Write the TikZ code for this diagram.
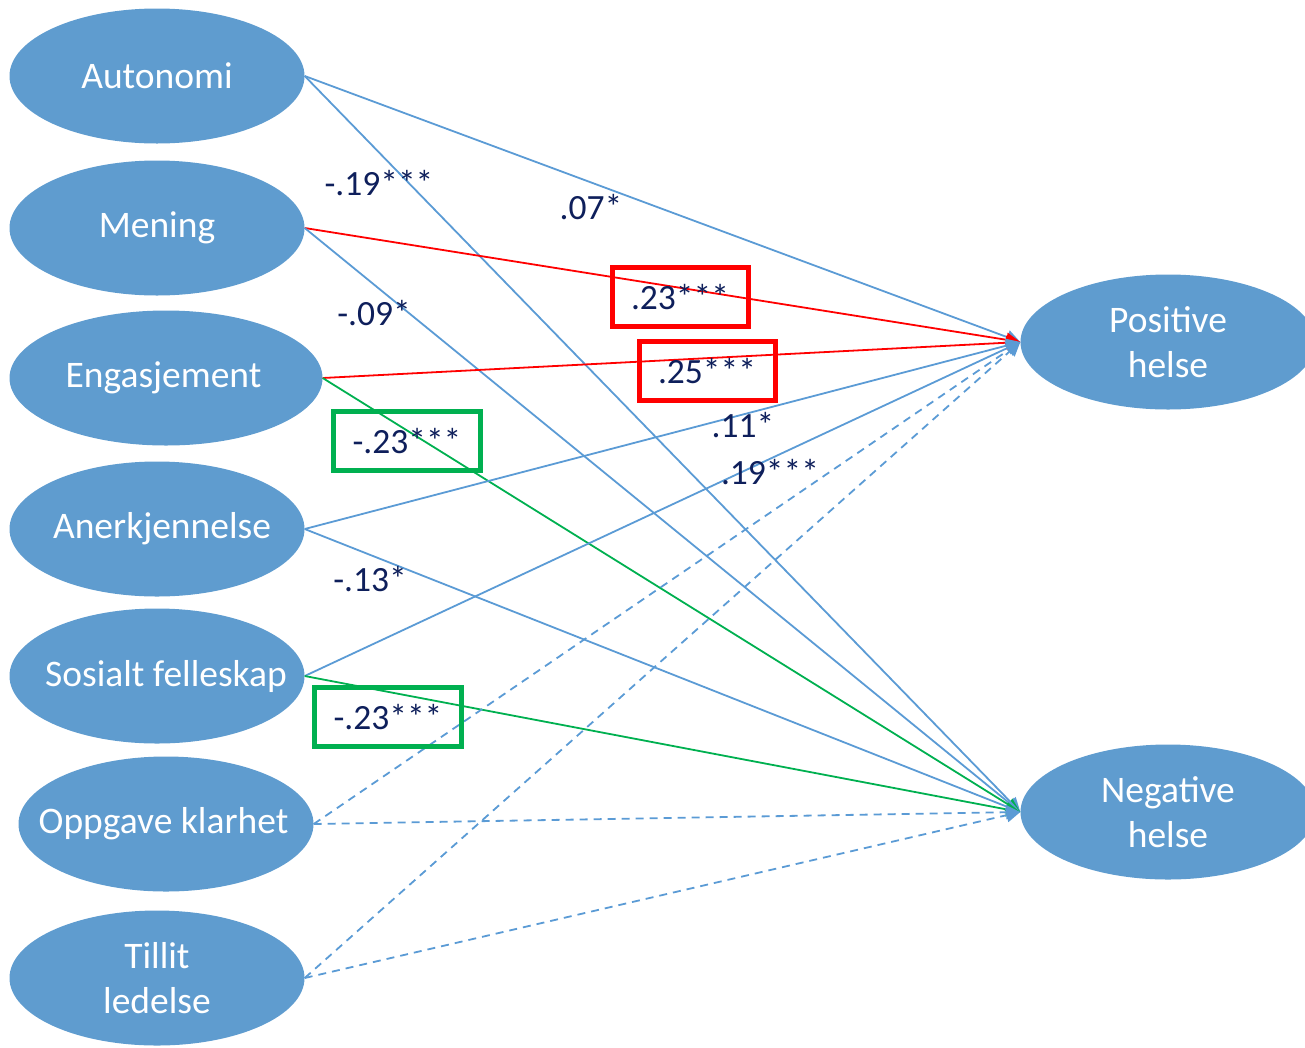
\documentclass[tikz,border=0pt]{standalone}
\usepackage{fontspec}
\setmainfont{Carlito}
\usetikzlibrary{shapes.geometric,arrows.meta}
\definecolor{ellblue}{HTML}{5F9CCF}
\definecolor{lnblue}{HTML}{5B9BD5}
\definecolor{navy}{HTML}{0E1F5B}
\definecolor{okred}{HTML}{FF0000}
\definecolor{okgreen}{HTML}{00B050}
\tikzset{
  latent/.style={ellipse, fill=ellblue, draw=none, text=white, inner xsep=-70pt, inner ysep=-10pt,
    minimum width=295pt, minimum height=135pt, align=center,
    font=\fontsize{37.5}{45}\selectfont},
  coef/.style={text=navy, inner sep=0pt, font=\fontsize{35.5}{42}\selectfont},
  boxred/.style={coef, draw=okred, line width=5pt, minimum width=136pt, minimum height=59pt},
  boxgreen/.style={coef, draw=okgreen, line width=5pt, minimum width=147pt, minimum height=59pt},
  tip/.style={-{Triangle[length=14pt,width=14pt]}},
  pathblue/.style={tip, draw=lnblue, line width=1.8pt},
  pathred/.style={tip, draw=okred, line width=1.8pt},
  pathgreen/.style={tip, draw=okgreen, line width=1.8pt},
  pathdash/.style={tip, draw=lnblue, line width=1.8pt, dash pattern=on 8pt off 6pt},
}
\begin{document}
\begin{tikzpicture}[x=1pt,y=-1pt]
\useasboundingbox (0,0) rectangle (1305,1047);
\clip (0,0) rectangle (1305,1047);
% nodes
\node[latent] (aut) at (157,76) {Autonomi};
\node[latent] (men) at (157,228) {Mening};
\node[latent, minimum width=313pt] (eng) at (166,378) {Engasjement\hspace*{5pt}};
\node[latent] (ane) at (157,529) {\hspace*{10pt}Anerkjennelse};
\node[latent] (sos) at (157,676) {\hspace*{18pt}Sosialt felleskap};
\node[latent] (opp) at (166,824) {Oppgave klarhet\hspace*{5pt}};
\node[latent] (til) at (157,978) {Tillit\\ledelse};
\node[latent] (pos) at (1168,342) {Positive\\helse};
\node[latent] (neg) at (1168,812) {Negative\\helse};
% connectors
\draw[pathblue] (aut.east) -- (pos.west);
\draw[pathblue] (aut.east) -- (neg.west);
\draw[pathred] (men.east) -- (pos.west);
\draw[pathblue] (men.east) -- (neg.west);
\draw[pathred] (eng.east) -- (pos.west);
\draw[pathgreen] (eng.east) -- (neg.west);
\draw[pathblue] (ane.east) -- (pos.west);
\draw[pathblue] (ane.east) -- (neg.west);
\draw[pathblue] (sos.east) -- (pos.west);
\draw[pathgreen] (sos.east) -- (neg.west);
\draw[pathdash] (opp.east) -- (pos.west);
\draw[pathdash] (opp.east) -- (neg.west);
\draw[pathdash] (til.east) -- (pos.west);
\draw[pathdash] (til.east) -- (neg.west);
% coefficients
\node[coef] (c1) at (379,183) {-.19***};
\node[coef] (c2) at (591,207) {.07*};
\node[coef] (c3) at (374,313) {-.09*};
\node[boxred] (c4) at (680,297) {.23***};
\node[boxred] (c5) at (707,371) {.25***};
\node[boxgreen] (c6) at (407,441) {-.23***};
\node[coef] (c7) at (743,425) {.11*};
\node[coef] (c8) at (770,472) {.19***};
\node[coef] (c9) at (370,579) {-.13*};
\node[boxgreen] (c10) at (388,717) {-.23***};
\end{tikzpicture}
\end{document}
